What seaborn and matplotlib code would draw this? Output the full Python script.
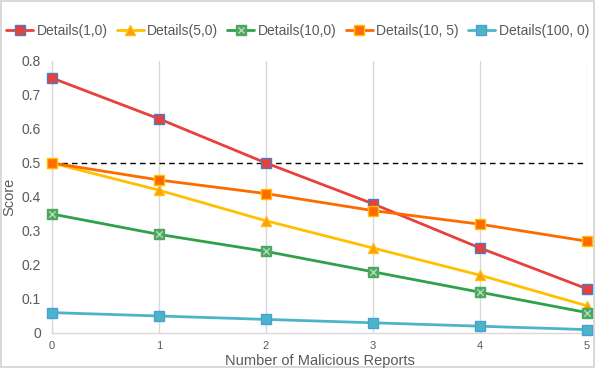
import matplotlib
matplotlib.use("Agg")
import matplotlib.pyplot as plt
from matplotlib.lines import Line2D
from matplotlib.legend_handler import HandlerTuple
import seaborn as sns
import pandas as pd

reports = [0, 1, 2, 3, 4, 5]
series_names = ["Details(1,0)", "Details(5,0)", "Details(10,0)", "Details(10, 5)", "Details(100, 0)"]
details_1_0 = [0.75, 0.63, 0.50, 0.38, 0.25, 0.13]
details_5_0 = [0.50, 0.42, 0.33, 0.25, 0.17, 0.08]
details_10_0 = [0.35, 0.29, 0.24, 0.18, 0.12, 0.06]
details_10_5 = [0.50, 0.45, 0.41, 0.36, 0.32, 0.27]
details_100_0 = [0.06, 0.05, 0.04, 0.03, 0.02, 0.01]
threshold = 0.5
y_ticks = [0, 0.1, 0.2, 0.3, 0.4, 0.5, 0.6, 0.7, 0.8]
y_tick_labels = ["0", "0.1", "0.2", "0.3", "0.4", "0.5", "0.6", "0.7", "0.8"]

values = [details_1_0, details_5_0, details_10_0, details_10_5, details_100_0]
df = pd.DataFrame({
    "reports": reports * len(series_names),
    "score": [v for vals in values for v in vals],
    "series": [n for n in series_names for _ in reports],
})

sns.set_theme(style="white")
plt.rcParams["font.family"] = ["Liberation Sans", "DejaVu Sans"]
text_color = "#595959"

# line colour, marker, marker face, marker edge, marker size
styles = {
    "Details(1,0)": ("#E8413A", "s", "#E8413A", "#4A7CC8", 7),
    "Details(5,0)": ("#FFC000", "^", "#FF9A1A", "#FFC000", 7),
    "Details(10,0)": ("#2FA14A", "s", "#4CA85E", "#4CA85E", 7),
    "Details(10, 5)": ("#FF6A00", "s", "#FF6A00", "#FFC000", 7),
    "Details(100, 0)": ("#4BB5C8", "s", "#4BB5C8", "#4A9ED8", 7),
}

fig = plt.figure(figsize=(5.95, 3.68), dpi=100)
fig.patch.set_edgecolor("#D9D9D9")
fig.patch.set_linewidth(1.5)
ax = fig.add_axes([52 / 595, 35 / 368, 535 / 595, 272 / 368])

handles = []
for name in series_names:
    color, marker, face, edge, size = styles[name]
    sub = df[df["series"] == name]
    sns.lineplot(data=sub, x="reports", y="score", ax=ax, color=color, lw=2.0,
                 marker=marker, markersize=size, markerfacecolor=face,
                 markeredgecolor=edge, markeredgewidth=1.0, legend=False,
                 zorder=3, clip_on=False)
    h = Line2D([], [], color=color, lw=2.0, marker=marker, markersize=size,
               markerfacecolor=face, markeredgecolor=edge, markeredgewidth=1.0)
    if name == "Details(10,0)":
        sns.scatterplot(data=sub, x="reports", y="score", ax=ax, marker="x",
                        color="#B8D8BE", s=22, linewidth=1.0, legend=False,
                        zorder=4, clip_on=False)
        hx = Line2D([], [], lw=0, marker="x", markersize=4.5, color="#B8D8BE",
                    markeredgewidth=1.0)
        h = (h, hx)
    handles.append(h)

ax.axhline(threshold, color="black", lw=1.0, ls=(0, (4, 3)), zorder=2)

ax.set_xlim(0, 5)
ax.set_ylim(0, 0.8)
ax.set_xticks(reports)
ax.set_xticklabels([str(r) for r in reports])
ax.set_yticks(y_ticks)
ax.set_yticklabels(y_tick_labels)
ax.grid(axis="x", color="#D9D9D9", lw=1.0)
ax.grid(axis="y", visible=False)
for side in ["top", "right"]:
    ax.spines[side].set_visible(False)
for side in ["left", "bottom"]:
    ax.spines[side].set_color("#D9D9D9")
    ax.spines[side].set_linewidth(1.0)
ax.tick_params(axis="x", labelsize=8, colors=text_color, length=0, pad=6)
ax.tick_params(axis="y", labelsize=10, colors=text_color, length=0, pad=8)
ax.set_xlabel("Number of Malicious Reports", fontsize=10.5, color=text_color, labelpad=2)
ax.set_ylabel("Score", fontsize=10.5, color=text_color, labelpad=4)

fig.legend(handles, series_names, loc="center", bbox_to_anchor=(0.5, 1 - 31 / 368),
           ncol=5, frameon=False, fontsize=10, handlelength=1.95, handletextpad=0.25,
           columnspacing=0.65, labelcolor=text_color,
           handler_map={tuple: HandlerTuple(ndivide=1, pad=0)})

fig.savefig("out.png", dpi=100, edgecolor=fig.get_edgecolor())
